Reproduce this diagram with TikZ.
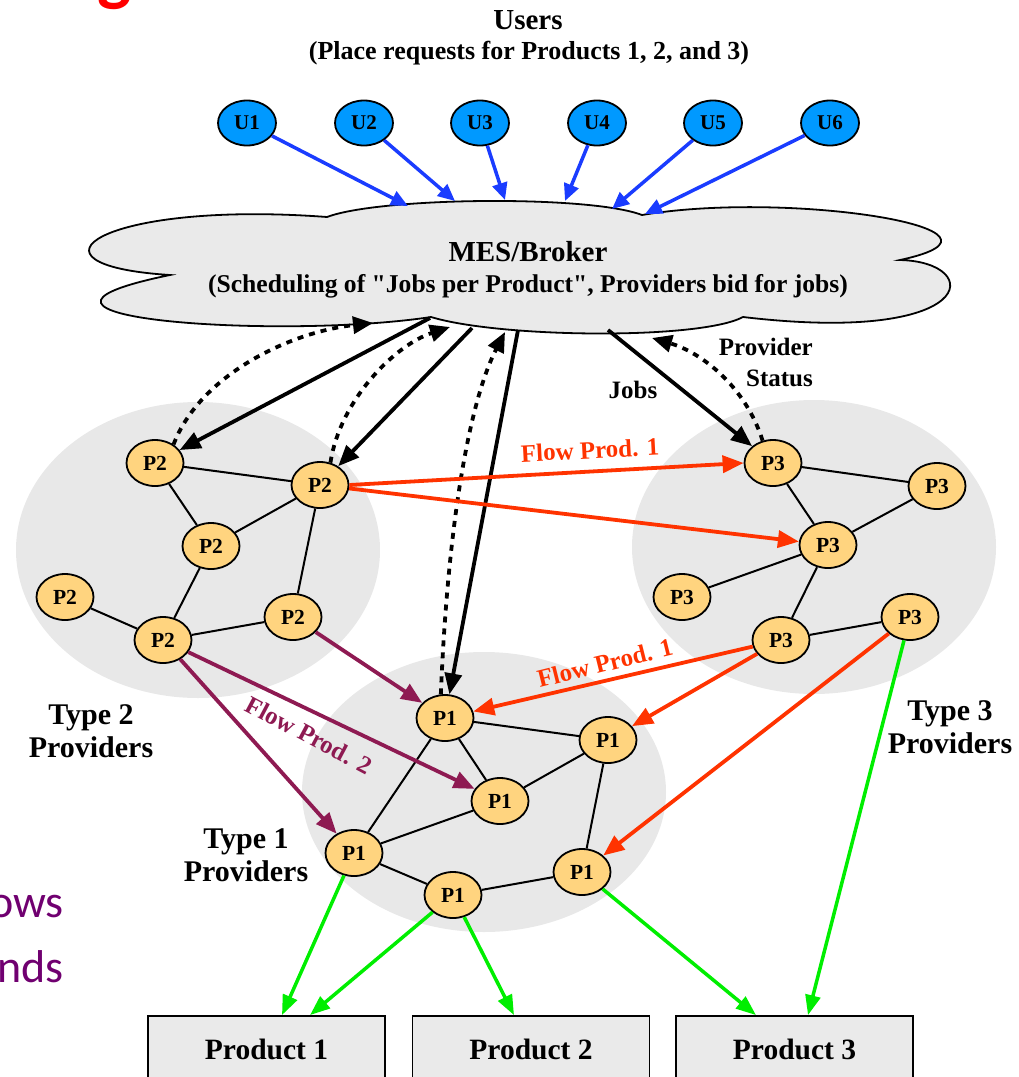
\documentclass[tikz,border=0pt]{standalone}
\usepackage{fontspec}
\setmainfont{Liberation Serif}[Ligatures=TeXOff]
\newfontfamily\slidefont{Carlito}
\usetikzlibrary{arrows.meta,shapes.geometric}

\definecolor{userblue}{HTML}{0099FF}
\definecolor{linkblue}{HTML}{1A3CFF}
\definecolor{flowred}{HTML}{FF3300}
\definecolor{flowplum}{HTML}{8E1A52}
\definecolor{outgreen}{HTML}{00EE00}
\definecolor{provfill}{HTML}{FFD47F}
\definecolor{regiongray}{HTML}{E8E8E8}
\definecolor{cloudgray}{HTML}{EAEAEA}
\definecolor{titlered}{HTML}{FF0000}
\definecolor{slideplum}{HTML}{700070}

\tikzset{
  user/.style={ellipse, draw, line width=1.8pt, fill=userblue, minimum width=58pt,
    minimum height=45pt, inner sep=0pt, font=\bfseries\fontsize{21}{24}\selectfont},
  prov/.style={ellipse, draw, line width=1.8pt, fill=provfill, minimum width=57pt,
    minimum height=46pt, inner sep=0pt, font=\bfseries\fontsize{21.5}{24}\selectfont},
  prodbox/.style={draw, line width=1.8pt, fill=cloudgray, minimum width=237pt,
    minimum height=66pt, inner sep=0pt, font=\bfseries\fontsize{29.5}{34}\selectfont},
  link/.style={line width=2pt},
  req/.style={linkblue, line width=3.5pt, -{Triangle[length=17pt,width=15pt]}},
  job/.style={black, line width=3.8pt, -{Triangle[length=21pt,width=17pt]}},
  status/.style={black, line width=3.8pt, dash pattern=on 6pt off 6pt,
    -{Triangle[length=20pt,width=17pt]}},
  flowone/.style={flowred, line width=3.8pt, -{Triangle[length=21pt,width=17pt]}},
  flowtwo/.style={flowplum, line width=3.8pt, -{Triangle[length=21pt,width=17pt]}},
  outflow/.style={outgreen, line width=3.5pt, -{Triangle[length=20pt,width=15pt]}},
  caption/.style={font=\bfseries\fontsize{30}{33}\selectfont, align=center, inner sep=0pt},
  tag/.style={font=\bfseries\fontsize{25}{31}\selectfont, inner sep=0pt},
}

\begin{document}
\begin{tikzpicture}[x=1pt, y=-1pt, font=\bfseries]
\path[use as bounding box] (0,0) rectangle (1019,1077);
\clip (0,0) rectangle (1019,1077);

% fragments of the slide text around the diagram
\node[anchor=base, text=titlered, inner sep=0pt,
      font=\slidefont\bfseries\fontsize{72}{72}\selectfont] (ttl) at (115,-3) {g};
\node[anchor=base east, text=slideplum, inner sep=0pt,
      font=\slidefont\mdseries\fontsize{46}{46}\selectfont] (sl1) at (64,917) {ows};
\node[anchor=base east, text=slideplum, inner sep=0pt,
      font=\slidefont\mdseries\fontsize{46}{46}\selectfont] (sl2) at (64,982) {nds};

% provider regions
\fill[regiongray] (198,550) ellipse [x radius=182pt, y radius=148pt];
\fill[regiongray] (814,547) ellipse [x radius=182pt, y radius=147pt];
\fill[regiongray] (484,792) ellipse [x radius=182pt, y radius=140pt];

% users
\node[font=\bfseries\fontsize{29}{34}\selectfont, inner sep=0pt] (usr) at (528,20) {Users};
\node[font=\bfseries\fontsize{26}{30}\selectfont, inner sep=0pt] (usrsub) at (529,53)
  {(Place requests for Products 1, 2, and 3)};
\foreach \i/\x in {1/247,2/364,3/480,4/597,5/713,6/830}
  \node[user] (U\i) at (\x,123) {U\i};

% broker cloud
\draw[line width=1.8pt, fill=cloudgray]
  (327,217) .. controls (380,197) and (590,195) .. (642,215)
  .. controls (790,190) and (1040,230) .. (900,260)
  .. controls (985,262) and (980,345) .. (743,317)
  .. controls (700,340) and (500,338) .. (431,317)
  .. controls (280,340) and (-40,318) .. (170,275)
  .. controls (10,265) and (100,200) .. (327,217) -- cycle;
\node[font=\bfseries\fontsize{29}{34}\selectfont, inner sep=0pt] (mes) at (528,252) {MES/Broker};
\node[font=\bfseries\fontsize{25.6}{30}\selectfont, inner sep=0pt] (messub) at (528,286)
  {(Scheduling of "Jobs per Product", Providers bid for jobs)};

% attachment points on the cloud
\coordinate (ub1) at (408,206);
\coordinate (ub2) at (455,201);
\coordinate (ub3) at (505,200);
\coordinate (ub4) at (565,201);
\coordinate (ub5) at (612,209);
\coordinate (ub6) at (645,214);
\coordinate (cj1) at (430,318);
\coordinate (cj2) at (472,328);
\coordinate (cj3) at (518,330);
\coordinate (cj4) at (608,330);
\coordinate (cs1) at (373,323);
\coordinate (cs2) at (450,327);
\coordinate (cs3) at (505,332);
\coordinate (cs4) at (652,338);

% type 2 providers
\node[prov] (P2a) at (155,463) {P2};
\node[prov] (P2b) at (320,485) {P2};
\node[prov] (P2c) at (211,546) {P2};
\node[prov] (P2d) at (65,597) {P2};
\node[prov] (P2e) at (163,640) {P2};
\node[prov] (P2f) at (293,617) {P2};
% type 3 providers
\node[prov] (P3a) at (773,463) {P3};
\node[prov] (P3b) at (937,486) {P3};
\node[prov] (P3c) at (828,545) {P3};
\node[prov] (P3d) at (682,597) {P3};
\node[prov] (P3e) at (781,640) {P3};
\node[prov] (P3f) at (910,617) {P3};
% type 1 providers
\node[prov] (P1a) at (445,718) {P1};
\node[prov] (P1b) at (608,740) {P1};
\node[prov] (P1c) at (500,801) {P1};
\node[prov] (P1d) at (354,853) {P1};
\node[prov] (P1e) at (453,895) {P1};
\node[prov] (P1f) at (582,872) {P1};

% links inside each provider group
\foreach \a/\b in {P2a/P2b,P2a/P2c,P2b/P2c,P2b/P2f,P2c/P2e,P2d/P2e,P2e/P2f,
                   P3a/P3b,P3a/P3c,P3b/P3c,P3c/P3d,P3c/P3e,P3e/P3f,
                   P1a/P1b,P1a/P1c,P1a/P1d,P1b/P1c,P1b/P1f,P1c/P1d,P1d/P1e,P1e/P1f}
  \draw[link] (\a) -- (\b);

% products
\node[prodbox] (prod1) at (266.5,1049) {Product 1};
\node[prodbox] (prod2) at (531,1049) {Product 2};
\node[prodbox] (prod3) at (794.5,1049) {Product 3};

% user requests
\foreach \i in {1,...,6}
  \draw[req] (U\i) -- (ub\i);

% jobs and provider status
\draw[job] (cj1) -- (P2a);
\draw[job] (cj2) -- (P2b);
\draw[job] (cj3) -- (P1a);
\draw[job] (cj4) -- (P3a);
\draw[status] (P2a.45) .. controls (200,375) and (290,332) .. (cs1);
\draw[status] (P2b.65) .. controls (340,400) and (395,345) .. (cs2);
\draw[status] (P1a.100) .. controls (448,520) and (470,400) .. (cs3);
\draw[status] (P3a.115) .. controls (745,385) and (700,352) .. (cs4);

% product flows
\draw[flowone] (P2b.east) -- (P3a.west);
\draw[flowone] (P2b) -- (P3c);
\draw[flowone] (P3e) -- (P1a);
\draw[flowone] (P3e) -- (P1b);
\draw[flowone] (P3f) -- (P1f);
\draw[flowtwo] (P2f) -- (P1a);
\draw[flowtwo] (P2e) -- (P1c);
\draw[flowtwo] (P2e) -- (P1d);

% finished goods
\draw[outflow] (P1d) -- ([xshift=15.5pt]prod1.north);
\draw[outflow] (P1e) -- ([xshift=43.5pt]prod1.north);
\draw[outflow] (P1e) -- ([xshift=-17pt]prod2.north);
\draw[outflow] (P1f) -- ([xshift=-38.5pt]prod3.north);
\draw[outflow] (P3f) -- ([xshift=13.5pt]prod3.north);

% labels
\node[tag, text=flowred, rotate=3] (fl1) at (590,450) {Flow Prod. 1};
\node[tag, text=flowred, rotate=14] (fl2) at (605,663) {Flow Prod. 1};
\node[tag, text=flowplum, rotate=-28] (fl3) at (309,735) {Flow Prod. 2};
\node[tag] (jobs) at (633,390) {Jobs};
\node[tag, align=right, anchor=east] (pstat) at (813,362) {Provider\\Status};
\node[caption] (t2) at (91,731) {Type 2\\Providers};
\node[caption] (t3) at (950,727) {Type 3\\Providers};
\node[caption] (t1) at (246,855) {Type 1\\Providers};
\end{tikzpicture}
\end{document}
